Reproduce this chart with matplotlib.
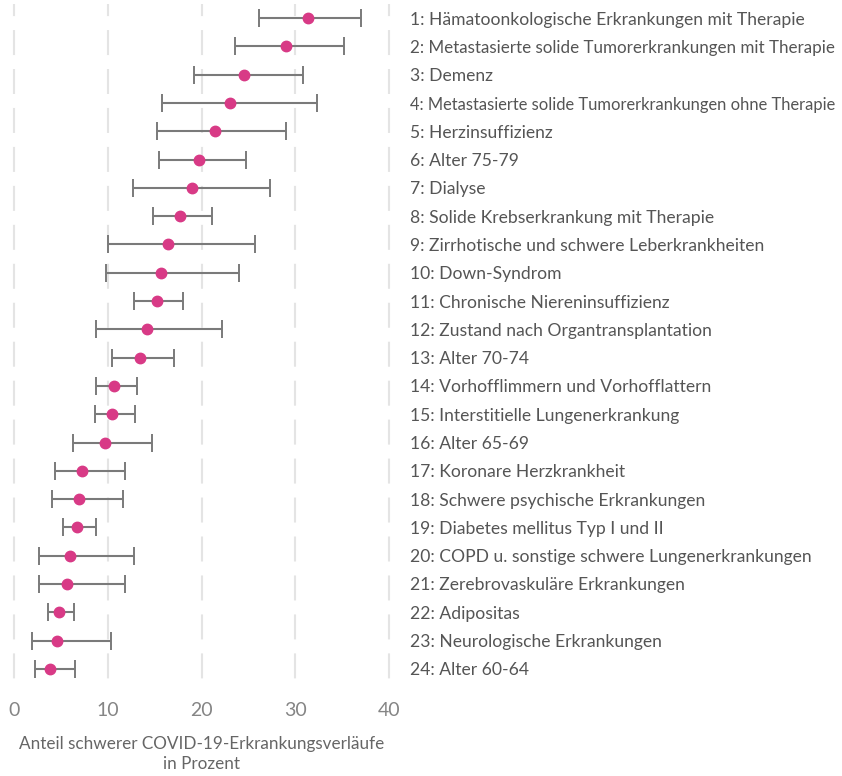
import matplotlib.pyplot as plt

plt.rcParams['font.family'] = ['Lato', 'DejaVu Sans']

labels = [
    "1: Hämatoonkologische Erkrankungen mit Therapie",
    "2: Metastasierte solide Tumorerkrankungen mit Therapie",
    "3: Demenz",
    "4: Metastasierte solide Tumorerkrankungen ohne Therapie",
    "5: Herzinsuffizienz",
    "6: Alter 75-79",
    "7: Dialyse",
    "8: Solide Krebserkrankung mit Therapie",
    "9: Zirrhotische und schwere Leberkrankheiten",
    "10: Down-Syndrom",
    "11: Chronische Niereninsuffizienz",
    "12: Zustand nach Organtransplantation",
    "13: Alter 70-74",
    "14: Vorhofflimmern und Vorhofflattern",
    "15: Interstitielle Lungenerkrankung",
    "16: Alter 65-69",
    "17: Koronare Herzkrankheit",
    "18: Schwere psychische Erkrankungen",
    "19: Diabetes mellitus Typ I und II",
    "20: COPD u. sonstige schwere Lungenerkrankungen",
    "21: Zerebrovaskuläre Erkrankungen",
    "22: Adipositas",
    "23: Neurologische Erkrankungen",
    "24: Alter 60-64",
]

# share of severe courses in percent with lower / upper interval bounds
estimate = [31.4, 29.0, 24.5, 23.0, 21.4, 19.7, 19.0, 17.7, 16.4, 15.7, 15.2, 14.2,
            13.4, 10.7, 10.5, 9.7, 7.3, 6.9, 6.75, 6.0, 5.7, 4.8, 4.55, 3.8]
lower = [26.1, 23.6, 19.2, 15.8, 15.3, 15.5, 12.7, 14.8, 10.0, 9.85, 12.8, 8.75,
         10.5, 8.7, 8.6, 6.3, 4.4, 4.0, 5.2, 2.7, 2.7, 3.6, 1.95, 2.2]
upper = [37.0, 35.2, 30.8, 32.3, 29.0, 24.7, 27.3, 21.1, 25.7, 24.0, 18.0, 22.2,
         17.1, 13.1, 12.9, 14.7, 11.8, 11.6, 8.75, 12.8, 11.8, 6.4, 10.3, 6.5]

ticks = [0, 10, 20, 30, 40]

fig = plt.figure(figsize=(8.42, 7.76), dpi=100)
ax = fig.add_axes([14 / 842, 1 - 683 / 776, 375 / 842, 679 / 776])

pos = list(range(1, len(labels) + 1))
xerr = [[e - l for e, l in zip(estimate, lower)],
        [u - e for e, u in zip(estimate, upper)]]

# dashed vertical grid, pattern running from the top down
for t in ticks:
    ax.plot([t, t], [0.5, len(labels) + 0.4], color='#e4e4e4', lw=1.5,
            linestyle=(6.2, (12, 6.7)), zorder=0, clip_on=False)

ax.errorbar(estimate, pos, xerr=xerr, fmt='o', color='#d83a86', ms=7.5,
            ecolor='#7a7a7a', elinewidth=1.5, capsize=6.5, capthick=1.4, zorder=3)

ax.set_xlim(0, 40)
ax.set_ylim(len(labels) + 0.5, 0.5)
ax.set_xticks(ticks)
ax.set_yticks(pos)
ax.set_yticklabels(labels)
ax.yaxis.tick_right()
ax.tick_params(axis='y', length=0, pad=15, labelsize=12.6, labelcolor='#555555')
ax.tick_params(axis='x', length=0, pad=14, labelsize=14, labelcolor='#858585')
for s in ax.spines.values():
    s.set_visible(False)

ax.set_xlabel("Anteil schwerer COVID-19-Erkrankungsverläufe\nin Prozent",
              fontsize=12.3, color='#666666', labelpad=12, linespacing=1.3)

# shrink the longest category names so they stay inside the figure
fig.canvas.draw()
renderer = fig.canvas.get_renderer()
for lbl in ax.get_yticklabels():
    bb = lbl.get_window_extent(renderer)
    limit = 836 - bb.x0
    if bb.width > limit:
        lbl.set_fontsize(lbl.get_fontsize() * limit / bb.width)

fig.savefig('out.png', dpi=100)
